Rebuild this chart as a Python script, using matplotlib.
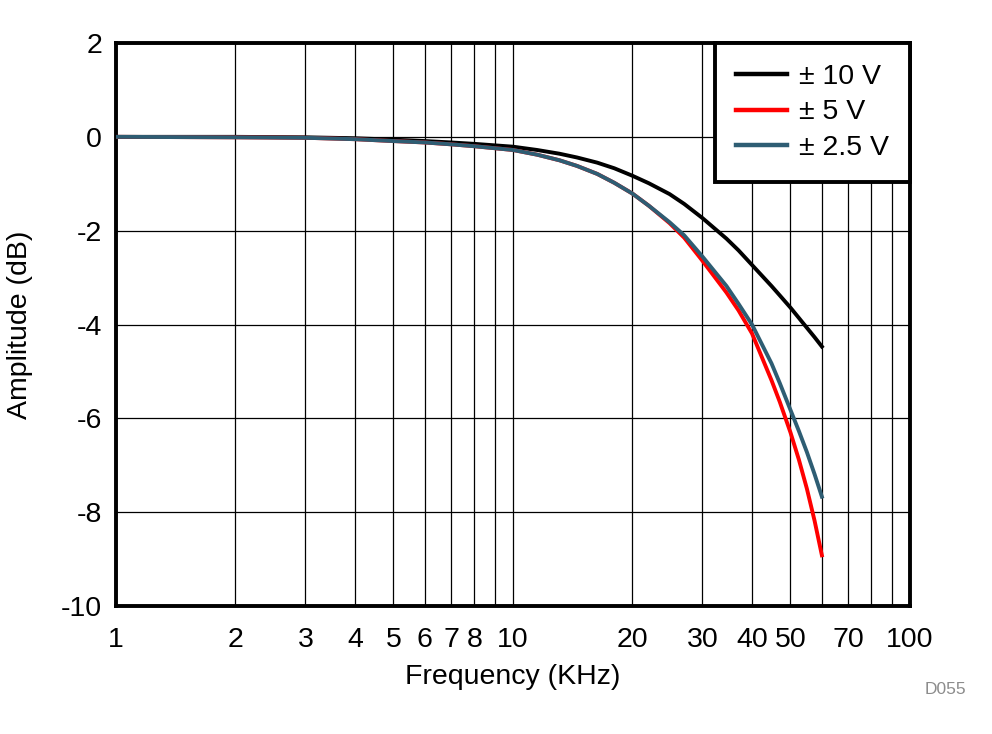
import matplotlib
matplotlib.use("Agg")
import matplotlib.pyplot as plt
from matplotlib.ticker import FixedLocator, FixedFormatter, NullFormatter

plt.rcParams['font.family'] = ['Liberation Sans', 'DejaVu Sans']

# frequency points (kHz) and amplitude readings (dB)
freq = [1, 2, 3, 4, 5, 6, 7, 8, 10, 11.5, 13.1, 14.5, 16.3, 18, 20, 22, 24.8, 27,
        30, 34.5, 37, 40, 44.8, 47, 50, 52.5, 55, 57.5, 60]
amp_10v = [0, 0, -0.01, -0.03, -0.06, -0.09, -0.12, -0.15, -0.21, -0.28, -0.36, -0.44,
           -0.55, -0.67, -0.83, -0.99, -1.22, -1.43, -1.73, -2.17, -2.42, -2.73, -3.18,
           -3.38, -3.64, -3.86, -4.07, -4.27, -4.47]
amp_5v = [0, -0.01, -0.02, -0.05, -0.09, -0.12, -0.16, -0.2, -0.28, -0.38, -0.5, -0.62,
          -0.79, -0.98, -1.21, -1.47, -1.84, -2.15, -2.64, -3.32, -3.7, -4.19, -5.19,
          -5.65, -6.3, -6.88, -7.5, -8.18, -8.92]
amp_2v5 = [0, -0.01, -0.02, -0.05, -0.09, -0.12, -0.16, -0.2, -0.28, -0.38, -0.5, -0.62,
           -0.79, -0.98, -1.21, -1.47, -1.82, -2.1, -2.55, -3.18, -3.56, -4.0, -4.83,
           -5.25, -5.82, -6.27, -6.72, -7.19, -7.67]

x_major = [1, 2, 3, 4, 5, 6, 7, 8, 10, 20, 30, 40, 50, 70, 100]
x_grid = [1, 2, 3, 4, 5, 6, 7, 8, 9, 10, 20, 30, 40, 50, 60, 70, 80, 90, 100]
y_ticks = [2, 0, -2, -4, -6, -8, -10]

fig = plt.figure(figsize=(9.92, 7.34), dpi=100)
ax = fig.add_axes([0.1169, 0.1744, 0.8004, 0.767])

ax.plot(freq, amp_10v, color='black', lw=2.8, label='± 10 V', zorder=3)
ax.plot(freq, amp_5v, color='#FF0000', lw=2.8, label='± 5 V', zorder=3)
ax.plot(freq, amp_2v5, color='#2E5D73', lw=2.8, label='± 2.5 V', zorder=4)

ax.set_xscale('log')
ax.set_xlim(1, 100)
ax.set_ylim(-10, 2)
ax.xaxis.set_major_locator(FixedLocator(x_major))
ax.xaxis.set_major_formatter(FixedFormatter([str(v) for v in x_major]))
ax.xaxis.set_minor_locator(FixedLocator(x_grid))
ax.xaxis.set_minor_formatter(NullFormatter())
ax.set_yticks(y_ticks)
ax.set_yticklabels([str(v) for v in y_ticks])

ax.grid(True, which='both', axis='x', color='black', lw=0.9)
ax.grid(True, which='major', axis='y', color='black', lw=0.9)
ax.tick_params(which='both', length=0, labelsize=20.5)
ax.tick_params(axis='x', pad=15)
ax.tick_params(axis='y', pad=10)

for s in ax.spines.values():
    s.set_linewidth(2.8)

ax.set_xlabel('Frequency (KHz)', fontsize=20.5, labelpad=8)
ax.set_ylabel('Amplitude (dB)', fontsize=20.5, labelpad=20)

leg = ax.legend(loc='upper right', fontsize=20.5, frameon=True, fancybox=False,
                borderaxespad=0, handlelength=1.8, handletextpad=0.4,
                borderpad=0.75, labelspacing=0.32)
leg.get_frame().set_edgecolor('black')
leg.get_frame().set_linewidth(2.8)
leg.get_frame().set_alpha(1)
for line in leg.get_lines():
    line.set_linewidth(3.2)

fig.text(0.953, 0.06, 'D055', color='#8C8C8C', fontsize=12.5, ha='center', va='center')

fig.savefig('out.png', dpi=100)
